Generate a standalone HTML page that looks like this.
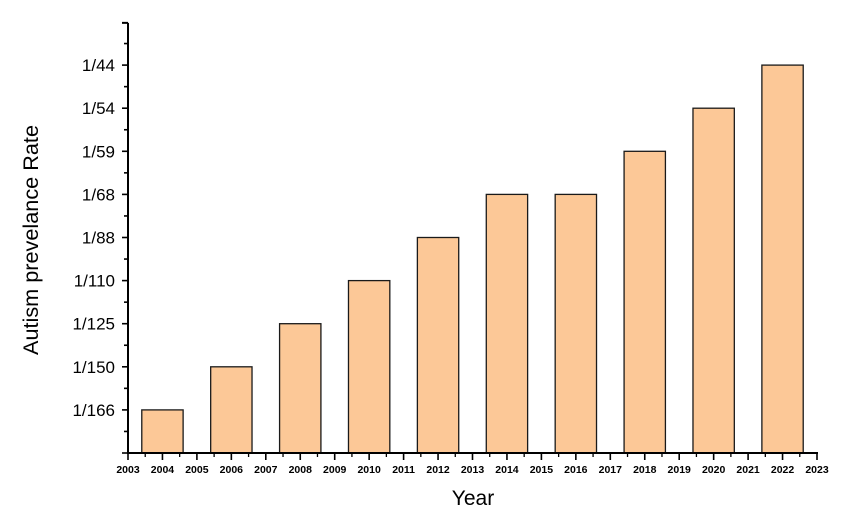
<!DOCTYPE html>
<html><head><meta charset="utf-8"><style>
body{margin:0;background:#fff;}
svg{display:block;font-family:"Liberation Sans",sans-serif;}
</style></head><body>
<svg id="chart" width="862" height="526" viewBox="0 0 862 526">
<g id="marks"></g>
<text transform="translate(38,240) rotate(-90)" text-anchor="middle" font-size="21" fill="#000" textLength="230" lengthAdjust="spacingAndGlyphs">Autism prevelance Rate</text>
<text x="473" y="505" text-anchor="middle" font-size="21" fill="#000">Year</text>
</svg>
<script>
const years=[2004,2006,2008,2010,2012,2014,2016,2018,2020,2022];
const rateLevels=["1/166","1/150","1/125","1/110","1/88","1/68","1/59","1/54","1/44"];
const values=["1/166","1/150","1/125","1/110","1/88","1/68","1/68","1/59","1/54","1/44"];
const xTicks=[2003,2004,2005,2006,2007,2008,2009,2010,2011,2012,2013,2014,2015,2016,2017,2018,2019,2020,2021,2022,2023];

const NS="http://www.w3.org/2000/svg";
const g=document.getElementById('marks');
const x0=128,x1=817,yBase=453,step=43.1;
const xs=y=>x0+(y-2003)*(x1-x0)/20;
const ys=i=>yBase-i*step;
function mk(t,a){const e=document.createElementNS(NS,t);for(const k in a)e.setAttribute(k,a[k]);g.appendChild(e);return e;}

values.forEach((v,i)=>{
 const lvl=rateLevels.indexOf(v)+1;
 const w=1.2*(x1-x0)/20;
 const r=mk('rect',{x:xs(years[i])-w/2,y:ys(lvl),width:w,height:yBase-ys(lvl),fill:'#fcc897',stroke:'#1a1a1a','stroke-width':1.3});
 
 
});
// axes
const ya=mk('line',{x1:x0,y1:ys(9.98),x2:x0,y2:yBase,stroke:'#000','stroke-width':2});


const xa=mk('line',{x1:x0-1,y1:yBase,x2:x1+1,y2:yBase,stroke:'#000','stroke-width':2});


mk('line',{x1:x0,y1:ys(9.98),x2:x0-6,y2:ys(9.98),stroke:'#000','stroke-width':2});
for(let i=0;i<=19;i++){
 const major=i%2===0;
 mk('line',{x1:x0,y1:ys(i/2),x2:x0-(major?6:4),y2:ys(i/2),stroke:'#000','stroke-width':1.6});
}
rateLevels.forEach((l,i)=>{
 const t=mk('text',{x:x0-13,y:ys(i+1)+6,'text-anchor':'end','font-size':17,fill:'#000'});
 t.textContent=l;
 
 
});
xTicks.forEach((yr,i)=>{
 mk('line',{x1:xs(yr),y1:yBase,x2:xs(yr),y2:yBase+7,stroke:'#000','stroke-width':1.6});
 if(i<xTicks.length-1)mk('line',{x1:xs(yr+0.5),y1:yBase,x2:xs(yr+0.5),y2:yBase+4,stroke:'#000','stroke-width':1.3});
 const t=mk('text',{x:xs(yr),y:yBase+20,'text-anchor':'middle','font-size':10.5,'font-weight':'bold',fill:'#000'});
 t.textContent=yr;
 
 
});
</script>
</body></html>
